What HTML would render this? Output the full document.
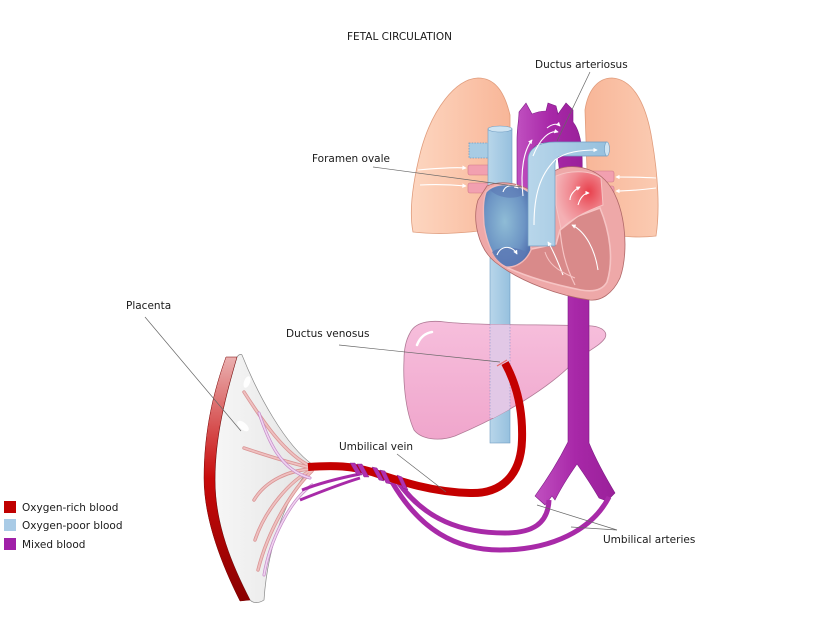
<!DOCTYPE html>
<html><head><meta charset="utf-8"><style>
html,body{margin:0;padding:0;background:#fff;}
svg{display:block;}
text{font-family:"DejaVu Sans","Liberation Sans",sans-serif;font-size:10.5px;fill:#1a1a1a;}
</style></head><body>
<svg width="825" height="625" viewBox="0 0 825 625" xmlns="http://www.w3.org/2000/svg">
<defs>
<linearGradient id="lungL" x1="0" y1="0" x2="1" y2="0"><stop offset="0" stop-color="#fdd6c0"/><stop offset="1" stop-color="#f8b698"/></linearGradient>
<linearGradient id="lungR" x1="0" y1="0" x2="1" y2="0"><stop offset="0" stop-color="#f8b698"/><stop offset="1" stop-color="#fbcbb2"/></linearGradient>
<linearGradient id="liver" x1="0" y1="0" x2="0" y2="1"><stop offset="0" stop-color="#f6bedc"/><stop offset="1" stop-color="#f0a6cc"/></linearGradient>
<linearGradient id="purp" x1="0" y1="0" x2="1" y2="0"><stop offset="0" stop-color="#c050c0"/><stop offset="0.5" stop-color="#a828a8"/><stop offset="1" stop-color="#9a209a"/></linearGradient>
<linearGradient id="redband" x1="0" y1="0" x2="0" y2="1"><stop offset="0" stop-color="#eab0b0"/><stop offset="0.5" stop-color="#c80a0a"/><stop offset="1" stop-color="#8a0000"/></linearGradient>
<linearGradient id="cone" x1="0" y1="0" x2="1" y2="0"><stop offset="0" stop-color="#f6f6f6"/><stop offset="1" stop-color="#e4e4e4"/></linearGradient>
<radialGradient id="ra" cx="0.45" cy="0.45" r="0.6"><stop offset="0" stop-color="#8fbcd6"/><stop offset="0.7" stop-color="#6c94c4"/><stop offset="1" stop-color="#5474b0"/></radialGradient>
<radialGradient id="la" cx="0.7" cy="0.35" r="0.7"><stop offset="0" stop-color="#e8404c"/><stop offset="0.55" stop-color="#f08890"/><stop offset="1" stop-color="#f4b0b4"/></radialGradient>
<linearGradient id="blueT" x1="0" y1="0" x2="1" y2="0"><stop offset="0" stop-color="#b8d6ea"/><stop offset="1" stop-color="#96c0de"/></linearGradient>
<clipPath id="liverClip"><path d="M410,333 C415,322 430,320 445,322 C480,326 560,324 592,326 C602,327 608,332 605,338 C600,346 588,350 572,364 C548,388 505,415 455,436 C438,442 421,439 414,430 C405,410 403,380 404,360 C404,348 406,340 410,333 Z"/></clipPath>
<marker id="ah" viewBox="0 0 6 6" refX="5" refY="3" markerWidth="4" markerHeight="4" orient="auto"><path d="M0,0 L6,3 L0,6 Z" fill="#fff"/></marker>
</defs>

<!-- Title -->
<text x="347" y="40">FETAL CIRCULATION</text>

<!-- Lungs -->
<path d="M478,78 C455,79 432,110 421,150 C412,185 409,212 413,232 C440,235 472,233 505,227 L510,200 L510,115 C504,90 494,78 478,78 Z" fill="url(#lungL)" stroke="#e09c7c" stroke-width="0.8"/>
<path d="M612,78 C632,79 646,102 652,140 C658,175 660,210 656,236 C640,238 618,237 598,232 L588,200 L585,110 C588,90 598,78 612,78 Z" fill="url(#lungR)" stroke="#e09c7c" stroke-width="0.8"/>

<!-- IVC -->
<rect x="490" y="250" width="20" height="193" fill="url(#blueT)" stroke="#6f9cc2" stroke-width="0.6"/>

<!-- Liver -->
<path d="M410,333 C415,322 430,320 445,322 C480,326 560,324 592,326 C602,327 608,332 605,338 C600,346 588,350 572,364 C548,388 505,415 455,436 C438,442 421,439 414,430 C405,410 403,380 404,360 C404,348 406,340 410,333 Z" fill="url(#liver)" stroke="#b07a96" stroke-width="0.8"/>
<g clip-path="url(#liverClip)">
<rect x="490" y="318" width="20" height="100" fill="#e2c8e6"/>
<line x1="490" y1="318" x2="490" y2="420" stroke="#8a90c8" stroke-width="0.6" stroke-dasharray="1.5,1.5"/>
<line x1="510" y1="318" x2="510" y2="420" stroke="#8a90c8" stroke-width="0.6" stroke-dasharray="1.5,1.5"/>
</g>
<path d="M417,345 C420,337 426,333 432,332" stroke="#fff" stroke-width="2.5" fill="none" stroke-linecap="round"/>

<!-- Descending aorta with bifurcation -->
<path d="M568,292 L568,442 C560,458 548,478 535,496 L545,505 L552,496 L555,500 C562,486 570,474 577,464 C584,474 592,486 599,498 L607,501 L615,493 C606,478 596,460 589,443 L589,292 Z" fill="url(#purp)" stroke="#7e1a86" stroke-width="0.6"/>

<!-- Umbilical arteries -->
<path d="M549,500 C548,524 532,533 505,533 C462,533 425,520 398,482" stroke="#a82aa8" stroke-width="5" fill="none"/>
<path d="M609,497 C592,530 552,550 500,550 C456,550 420,530 392,482" stroke="#a82aa8" stroke-width="5" fill="none"/>

<!-- Placenta -->
<path d="M242,355 C258,395 285,445 313,465 C290,490 268,540 264,600 C258,604 253,603 250,600 C232,565 215,525 215,480 C215,435 226,395 237,357 C239,354 241,354 242,355 Z" fill="url(#cone)" stroke="#8a8a8a" stroke-width="0.7"/>
<ellipse cx="243" cy="426" rx="7" ry="3.5" transform="rotate(40 243 426)" fill="#fff" opacity="0.9"/>
<ellipse cx="247" cy="382" rx="3" ry="6" transform="rotate(20 247 382)" fill="#fff" opacity="0.9"/>
<g fill="none" stroke-linecap="round">
<g stroke="#d99494" stroke-width="3.4">
<path d="M244,392 C262,420 285,455 312,467"/>
<path d="M244,448 C265,455 290,463 312,468"/>
<path d="M254,500 C266,480 290,470 312,469"/>
<path d="M255,540 C265,510 290,480 312,470"/>
<path d="M258,570 C268,530 292,490 312,471"/>
</g>
<g stroke="#efc0c0" stroke-width="1.8">
<path d="M244,392 C262,420 285,455 312,467"/>
<path d="M244,448 C265,455 290,463 312,468"/>
<path d="M254,500 C266,480 290,470 312,469"/>
<path d="M255,540 C265,510 290,480 312,470"/>
<path d="M258,570 C268,530 292,490 312,471"/>
</g>
<g stroke="#c58ac8" stroke-width="3">
<path d="M259,413 C268,440 280,470 310,478"/>
<path d="M264,575 C270,540 290,500 312,485"/>
</g>
<g stroke="#f0d4f0" stroke-width="1.6">
<path d="M259,413 C268,440 280,470 310,478"/>
<path d="M264,575 C270,540 290,500 312,485"/>
</g>
</g>
<path d="M237,357 C226,395 215,435 215,480 C215,525 232,565 250,600 L240,601 C222,565 204,520 204,478 C204,430 214,390 226,357 Z" fill="url(#redband)" stroke="#7a0000" stroke-width="0.5"/>

<!-- Cord purple lines to placenta -->
<path d="M360,474 C340,478 320,483 302,490" stroke="#a82aa8" stroke-width="3" fill="none"/>
<path d="M360,478 C340,484 320,492 300,500" stroke="#a82aa8" stroke-width="3" fill="none"/>

<!-- Umbilical vein -->
<path d="M308,467 C335,465 352,466 372,472 C402,482 432,492 470,493 C502,494 521,475 522,440 C523,410 517,385 505,363" stroke="#c40000" stroke-width="8" fill="none"/>
<path d="M497,366 L507,360" stroke="#e86a6a" stroke-width="1.2"/>
<g fill="#b030b0" stroke="#7e1a86" stroke-width="0.4">
<polygon points="350,463 355,463 362,475 357,475"/>
<polygon points="357,464 362,464 369,477 364,477"/>
<polygon points="372,467 377,468 384,481 379,480"/>
<polygon points="380,470 385,471 391,484 386,483"/>
<polygon points="397,475 402,477 408,490 403,488"/>
</g>

<!-- Pulmonary vessels -->
<rect x="469" y="143" width="22" height="15" fill="#a8cce4" stroke="#6f9cc2" stroke-width="0.8" stroke-dasharray="1.5,1.2"/>
<rect x="468" y="165" width="22" height="10" rx="2" fill="#f2a0b0" stroke="#d07888" stroke-width="0.6"/>
<rect x="468" y="183" width="22" height="10" rx="2" fill="#f2a0b0" stroke="#d07888" stroke-width="0.6"/>
<rect x="586" y="171" width="28" height="11" rx="2" fill="#f2a0b0" stroke="#d07888" stroke-width="0.6"/>
<rect x="586" y="186" width="28" height="11" rx="2" fill="#f2a0b0" stroke="#d07888" stroke-width="0.6"/>

<!-- Aortic arch -->
<path d="M517,205 L517,140 C517,128 519,120 519,112 L526,103 L532,114 C537,112 541,111 546,111 L548,103 L556,106 L558,114 L566,103 L573,110 L573,122 C581,132 583,150 582,175 L560,175 L557,150 C552,140 538,140 532,150 L530,205 Z" fill="url(#purp)" stroke="#7e1a86" stroke-width="0.6"/>

<!-- SVC -->
<rect x="488" y="129" width="24" height="100" fill="url(#blueT)" stroke="#6f9cc2" stroke-width="0.6"/>
<ellipse cx="500" cy="129" rx="12" ry="3" fill="#cfe4f2" stroke="#6f9cc2" stroke-width="0.6"/>

<!-- Heart body -->
<path d="M487,186 C500,180 518,183 530,190 L553,172 C565,163 590,165 605,180 C625,200 630,250 620,278 C612,295 600,301 590,300 C560,296 520,282 495,262 C478,248 472,220 478,200 Z" fill="#eea8a8" stroke="#b06868" stroke-width="0.8"/>
<path d="M508,268 L527,250 L556,244 L560,230 L578,216 L600,208 C610,232 614,260 607,282 C602,291 592,292 581,290 C556,285 530,278 508,268 Z" fill="#d98a8a" stroke="#f6c4c4" stroke-width="1.6"/>
<path d="M560,230 C562,250 565,265 575,285" stroke="#f6c4c4" stroke-width="1.2" fill="none"/>
<path d="M556,176 C570,170 590,170 601,178 L603,205 C590,210 575,216 561,229 L556,205 Z" fill="url(#la)" stroke="#f6c4c4" stroke-width="1"/>
<path d="M486,192 C495,182 515,182 529,192 L531,250 C526,262 515,268 506,267 C495,262 487,245 484,225 C483,210 483,200 486,192 Z" fill="url(#ra)" stroke="#f2b8b8" stroke-width="1.4"/>
<path d="M492,252 C500,246 515,246 526,252 C524,262 515,267 506,266 C499,263 495,258 492,252 Z" fill="#5b78b4" opacity="0.8"/>
<path d="M490,190 C500,184 515,184 526,192 C520,200 500,200 490,190 Z" fill="#5b78b4" opacity="0.6"/>

<!-- Pulmonary trunk -->
<path d="M528,246 L528,160 C528,148 540,142 555,142 L607,142 L607,156 L562,156 C557,156 555,160 555,165 L555,246 Z" fill="url(#blueT)" stroke="#6f9cc2" stroke-width="0.7"/>
<ellipse cx="607" cy="149" rx="2.5" ry="7" fill="#cfe4f2" stroke="#6f9cc2" stroke-width="0.6"/>

<!-- white arrows -->
<g stroke="#fff" stroke-width="1.1" fill="none" marker-end="url(#ah)">
<path d="M418,170 C440,168 455,167 466,168"/>
<path d="M420,185 C440,184 455,185 466,186"/>
<path d="M656,178 C640,177 628,177 616,177"/>
<path d="M656,188 C640,190 628,191 616,191"/>
<path d="M533,156 C540,138 550,130 558,132"/>
<path d="M547,128 C552,124 557,123 560,126"/>
<path d="M523,196 C520,170 524,150 532,140"/>
<path d="M534,225 C534,195 540,175 555,160 C565,152 580,150 597,150"/>
<path d="M503,192 C505,185 513,184 518,188"/>
<path d="M497,255 C501,245 512,245 517,254"/>
<path d="M570,200 C570,195 574,190 580,187"/>
<path d="M578,205 C580,198 584,193 589,193"/>
<path d="M563,275 C558,262 553,250 548,242"/>
<path d="M598,270 C595,250 586,232 572,225"/>
</g>
<path d="M545,252 C548,262 555,270 575,278" stroke="#f6c4c4" stroke-width="1" fill="none"/>

<!-- Leader lines -->
<g stroke="#666" stroke-width="0.7" fill="none">
<line x1="590" y1="72" x2="557" y2="141"/>
<line x1="373" y1="167" x2="522" y2="187"/>
<line x1="145" y1="317" x2="241" y2="431"/>
<line x1="339" y1="345" x2="500" y2="362"/>
<line x1="397" y1="454" x2="446" y2="492"/>
<line x1="617" y1="530" x2="537" y2="505"/>
<line x1="617" y1="530" x2="571" y2="527"/>
</g>

<!-- Labels -->
<text x="535" y="68">Ductus arteriosus</text>
<text x="312" y="162">Foramen ovale</text>
<text x="126" y="309">Placenta</text>
<text x="286" y="337">Ductus venosus</text>
<text x="339" y="450">Umbilical vein</text>
<text x="603" y="543">Umbilical arteries</text>

<!-- Legend -->
<rect x="4" y="501" width="12" height="12" fill="#c00000"/>
<rect x="4" y="519" width="12" height="12" fill="#a9cbe6"/>
<rect x="4" y="538" width="12" height="12" fill="#a020a8"/>
<text x="22" y="511">Oxygen-rich blood</text>
<text x="22" y="529">Oxygen-poor blood</text>
<text x="22" y="548">Mixed blood</text>
</svg>
</body></html>
